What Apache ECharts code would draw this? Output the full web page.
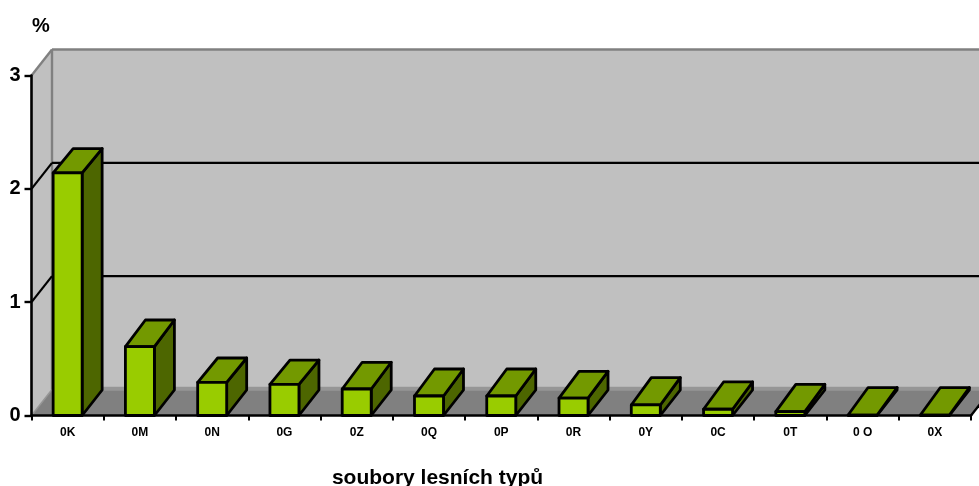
<!DOCTYPE html>
<html><head><meta charset="utf-8">
<style>html,body{margin:0;padding:0;background:#fff;overflow:hidden}#c{width:979px;height:486px}</style>
<script src="https://cdn.jsdelivr.net/npm/echarts@6/dist/echarts.min.js"></script>
</head><body><div id="c"></div>
<script>
const categories = ['0K','0M','0N','0G','0Z','0Q','0P','0R','0Y','0C','0T','0 O','0X'];
const percentValues = [2.14,0.607,0.293,0.275,0.234,0.172,0.172,0.154,0.093,0.055,0.034,0.004,0.004];
const innerGrid = [[0,1],[0,2]];

const FONT = '"Liberation Sans", Arial, sans-serif';
const DX = 20.5, DY = 26;        // oblique depth of the chart box
const BDX = 20, BDY = 25.5;      // oblique depth of one bar at its foot
const TOP_DEPTH = [24.4,26.7,24.3,24.3,26.7,27,27,26.7,27.3,27.3,27.3,27.5,27.5]; // obliquity of each bar's top face
const BAR_W = 29;
const black = {stroke:'#000', lineWidth:2.8, lineJoin:'round'};

function poly(pts, style){ return {type:'polygon', shape:{points:pts}, style}; }
function line(a,b,stroke,w){ return {type:'line', shape:{x1:a[0],y1:a[1],x2:b[0],y2:b[1]}, style:{stroke,lineWidth:w}}; }

const chart = echarts.init(document.getElementById('c'), null, {renderer:'canvas'});
chart.setOption({
  animation:false,
  backgroundColor:'#fff',
  title:[
    {text:'%', left:41, top:16, padding:0, textAlign:'center', textStyle:{fontFamily:FONT,fontSize:20,fontWeight:'bold',color:'#000'}},
    {text:'soubory lesních typů', left:437.5, top:468, padding:0, textAlign:'center', textStyle:{fontFamily:FONT,fontSize:21,fontWeight:'bold',color:'#000'}}
  ],
  grid:{left:31.5, right:8, top:75.5, bottom:70.5},
  xAxis:{type:'category', data:categories, z:5,
    axisLine:{lineStyle:{color:'#000',width:2.6}},
    axisTick:{show:true,alignWithLabel:false,length:5,lineStyle:{color:'#000',width:2}},
    axisLabel:{interval:0,margin:11,color:'#000',fontFamily:FONT,fontSize:12,fontWeight:'bold'},
    splitLine:{show:false}},
  yAxis:{type:'value', min:0, max:3, interval:1, z:5,
    axisLine:{show:true,lineStyle:{color:'#000',width:2.6}},
    axisTick:{show:true,length:7,lineStyle:{color:'#000',width:2.4}},
    axisLabel:{margin:11,color:'#000',fontFamily:FONT,fontSize:20,fontWeight:'bold'},
    splitLine:{show:false}},
  series:[
    {type:'custom', silent:true, z:1, data:[[0,3]],
     renderItem(params, api){
       const cs = params.coordSys;
       const x0 = cs.x, x1 = cs.x+cs.width+40;
       const yb = api.coord([0,api.value(0)])[1], yt = api.coord([0,api.value(1)])[1];
       return {type:'group', children:[
         poly([[x0+DX,yt-DY],[x1,yt-DY],[x1,yb-DY],[x0+DX,yb-DY]], {fill:'#C0C0C0',stroke:null}),
         poly([[x0,yt],[x0+DX,yt-DY],[x0+DX,yb-DY],[x0,yb]], {fill:'#C0C0C0',stroke:null}),
         poly([[x0,yb],[x0+DX,yb-DY],[x1,yb-DY],[x1,yb]], {fill:'#808080',stroke:null}),
         line([x0+DX,yb-DY-0.8],[x1,yb-DY-0.8],'#969696',4),
         line([x0,yb],[x0+DX,yb-DY],'#969696',1.5),
         line([x0+DX,yt-DY],[x0+DX,yb-DY],'#808080',2.4),
         line([x0+DX,yt-DY],[x1,yt-DY],'#808080',2.4),
         line([x0,yt],[x0+DX,yt-DY],'#808080',2.4),
         poly([[cs.x+cs.width,yb],[x1,yb-DY*40/DX],[x1,yb+20],[cs.x+cs.width,yb+20]], {fill:'#fff',stroke:null}),
         line([cs.x+cs.width,yb],[x1,yb-DY*40/DX],'#000',2.4)
       ]};
     }},
    {type:'custom', silent:true, z:2, data:innerGrid,
     renderItem(params, api){
       const cs = params.coordSys;
       const y = api.coord([0,api.value(1)])[1];
       return {type:'group', children:[
         line([cs.x,y],[cs.x+DX,y-DY],'#000',2.2),
         line([cs.x+DX,y-DY],[cs.x+cs.width+40,y-DY],'#000',2.2)
       ]};
     }},
    {type:'custom', name:'%', z:3, clip:false,
     data:percentValues.map((v,i)=>[i,v]),
     renderItem(params, api){
       const p = api.coord([api.value(0),api.value(1)]);
       const base = api.coord([api.value(0),0]);
       const l = p[0]-BAR_W/2, r = p[0]+BAR_W/2, t = p[1], b = base[1];
       const td = TOP_DEPTH[params.dataIndex];
       return {type:'group', children:[
         poly([[r,t],[r+BDX,t-td],[r+BDX,b-BDY],[r,b]], Object.assign({fill:'#4D6600'},black)),
         poly([[l,t],[l+BDX,t-td],[r+BDX,t-td],[r,t]], Object.assign({fill:'#739900'},black)),
         poly([[l,t],[r,t],[r,b],[l,b]], Object.assign({fill:'#99CC00'},black))
       ]};
     }}
  ]
});
</script></body></html>
